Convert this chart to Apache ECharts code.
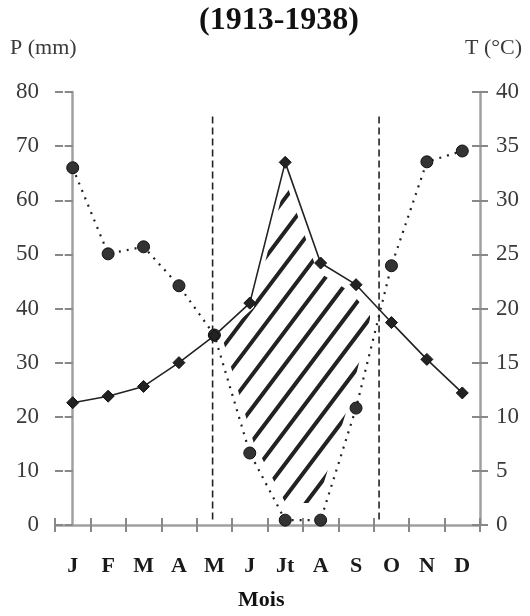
<!DOCTYPE html>
<html><head><meta charset="utf-8">
<script src="https://cdn.jsdelivr.net/npm/echarts@6/dist/echarts.min.js"></script>
<style>html,body{margin:0;padding:0;background:#fff}#c{width:530px;height:616px}</style>
</head><body><div id="c"></div>
<script>
// ---- data ----
const months = ['J','F','M','A','M','J','Jt','A','S','O','N','D'];
const precipitation = [66, 50.1, 51.4, 44.2, 35.1, 13.3, 0.9, 0.9, 21.6, 47.9, 67.1, 69.1]; // P (mm)
const temperature = [11.3, 11.9, 12.8, 15.0, 17.5, 20.5, 33.5, 24.2, 22.2, 18.7, 15.3, 12.2]; // T (°C)
const pAxis = {min: 0, max: 80, interval: 10};
const tAxis = {min: 0, max: 40, interval: 5};
const dryPeriod = [3.95, 8.65];      // month-index positions of the dashed limits
const dashedSpan = [1, 76];          // P-values spanned by the dashed limits

const SERIF = '"Liberation Serif","Times New Roman",serif';

function interp(arr, x) {
  const i = Math.min(Math.floor(x), arr.length - 2);
  const f = x - i;
  return arr[i] + (arr[i + 1] - arr[i]) * f;
}

const chart = echarts.init(document.getElementById('c'), null, {renderer: 'canvas'});

const axisLineStyle = {color: '#a0a0a0', width: 2.5};
const tickStyle = {color: '#888', width: 2};
const labelStyle = {color: '#3a3a3a', fontFamily: SERIF, fontSize: 23};

const option = {
  backgroundColor: '#fff',
  animation: false,
  grid: {left: 55, right: 50, top: 92, bottom: 91, containLabel: false},
  graphic: [
    {type: 'text', left: 199, top: 5, style: {text: '(1913-1938)', font: 'bold 32px ' + SERIF, fill: '#111'}},
    {type: 'text', left: 10, top: 37, style: {text: 'P (mm)', font: '22px ' + SERIF, fill: '#3a3a3a'}},
    {type: 'text', right: 8, top: 37, style: {text: 'T (°C)', font: '22px ' + SERIF, fill: '#3a3a3a'}},
    {type: 'text', left: 238, top: 589, style: {text: 'Mois', font: 'bold 22px ' + SERIF, fill: '#111'}}
  ],
  xAxis: [
    {type: 'category', data: months, boundaryGap: true,
     axisLine: {show: true, lineStyle: axisLineStyle},
     axisTick: {show: true, length: 7, lineStyle: tickStyle},
     axisLabel: {color: '#1a1a1a', fontFamily: SERIF, fontSize: 22, fontWeight: 'bold', margin: 30, interval: 0},
     splitLine: {show: false}},
    {type: 'value', min: -0.5, max: 11.5, show: false},
    {type: 'category', data: months, boundaryGap: true, position: 'bottom',
     axisLine: {show: false}, axisLabel: {show: false},
     axisTick: {show: true, inside: true, length: 7, lineStyle: tickStyle}}
  ],
  yAxis: [
    {type: 'value', position: 'left', min: pAxis.min, max: pAxis.max, interval: pAxis.interval,
     axisLine: {show: true, lineStyle: axisLineStyle},
     axisTick: {show: true, length: 8, lineStyle: tickStyle},
     axisLabel: Object.assign({margin: 16}, labelStyle),
     splitLine: {show: false}},
    {type: 'value', position: 'right', min: tAxis.min, max: tAxis.max, interval: tAxis.interval,
     axisLine: {show: true, lineStyle: axisLineStyle},
     axisTick: {show: true, length: 8, lineStyle: tickStyle},
     axisLabel: Object.assign({margin: 16}, labelStyle),
     splitLine: {show: false}},
    {type: 'value', position: 'left', min: pAxis.min, max: pAxis.max, interval: pAxis.interval,
     axisLine: {show: false}, axisLabel: {show: false}, splitLine: {show: false},
     axisTick: {show: true, inside: true, length: 8, lineStyle: tickStyle}},
    {type: 'value', position: 'right', min: tAxis.min, max: tAxis.max, interval: tAxis.interval,
     axisLine: {show: false}, axisLabel: {show: false}, splitLine: {show: false},
     axisTick: {show: true, inside: true, length: 8, lineStyle: tickStyle}}
  ],
  series: [
    {
      type: 'custom', xAxisIndex: 1, yAxisIndex: 0, silent: true, z: 1,
      data: [[dryPeriod[0], 0]],
      renderItem: function (params, api) {
        const xs = [dryPeriod[0]];
        for (let i = Math.ceil(dryPeriod[0]); i < dryPeriod[1]; i++) if (i > dryPeriod[0]) xs.push(i);
        xs.push(dryPeriod[1]);
        let pts = [];
        xs.forEach(x => pts.push(api.coord([x, 2 * interp(temperature, x)])));
        xs.slice().reverse().forEach(x => pts.push(api.coord([x, interp(precipitation, x)])));
        // shrink the hatched region slightly toward its centre (hand-drawn look)
        let cx0 = 0, cy0 = 0;
        pts.forEach(p => { cx0 += p[0]; cy0 += p[1]; });
        cx0 /= pts.length; cy0 /= pts.length;
        const k = 0.9;
        pts = pts.map(p => [cx0 + (p[0] - cx0) * k, cy0 + (p[1] - cy0) * k]);
        const ang = 53 * Math.PI / 180;
        const d = [Math.cos(ang), -Math.sin(ang)];
        const n = [Math.sin(ang), Math.cos(ang)];
        let sMin = Infinity, sMax = -Infinity;
        pts.forEach(p => { const s = p[0] * n[0] + p[1] * n[1]; sMin = Math.min(sMin, s); sMax = Math.max(sMax, s); });
        const spacing = 20;
        const lines = [];
        for (let s = sMin + spacing * 0.5; s < sMax; s += spacing) {
          const cx = n[0] * s, cy = n[1] * s;
          lines.push({type: 'line', shape: {x1: cx - d[0] * 1500, y1: cy - d[1] * 1500, x2: cx + d[0] * 1500, y2: cy + d[1] * 1500},
                      style: {stroke: '#222', lineWidth: 4, lineCap: 'round'}});
        }
        return {type: 'group', children: lines, clipPath: {type: 'polygon', shape: {points: pts}}};
      }
    },
    {
      type: 'line', xAxisIndex: 1, yAxisIndex: 0, symbol: 'none', silent: true, z: 2,
      data: [[dryPeriod[0], dashedSpan[0]], [dryPeriod[0], dashedSpan[1]]],
      lineStyle: {color: '#222', width: 1.6, type: [7, 4]}
    },
    {
      type: 'line', xAxisIndex: 1, yAxisIndex: 0, symbol: 'none', silent: true, z: 2,
      data: [[dryPeriod[1], dashedSpan[0]], [dryPeriod[1], dashedSpan[1]]],
      lineStyle: {color: '#222', width: 1.6, type: [7, 4]}
    },
    {
      name: 'P', type: 'line', xAxisIndex: 0, yAxisIndex: 0, data: precipitation, z: 3,
      symbol: 'circle', symbolSize: 12,
      itemStyle: {color: '#333', borderColor: '#111', borderWidth: 1},
      lineStyle: {color: '#222', width: 2.2, type: [2, 6]}
    },
    {
      name: 'T', type: 'line', xAxisIndex: 0, yAxisIndex: 1, data: temperature, z: 4,
      symbol: 'diamond', symbolSize: 12,
      itemStyle: {color: '#222', borderColor: '#111', borderWidth: 1},
      lineStyle: {color: '#222', width: 1.6}
    }
  ]
};
chart.setOption(option);
</script>
</body></html>
